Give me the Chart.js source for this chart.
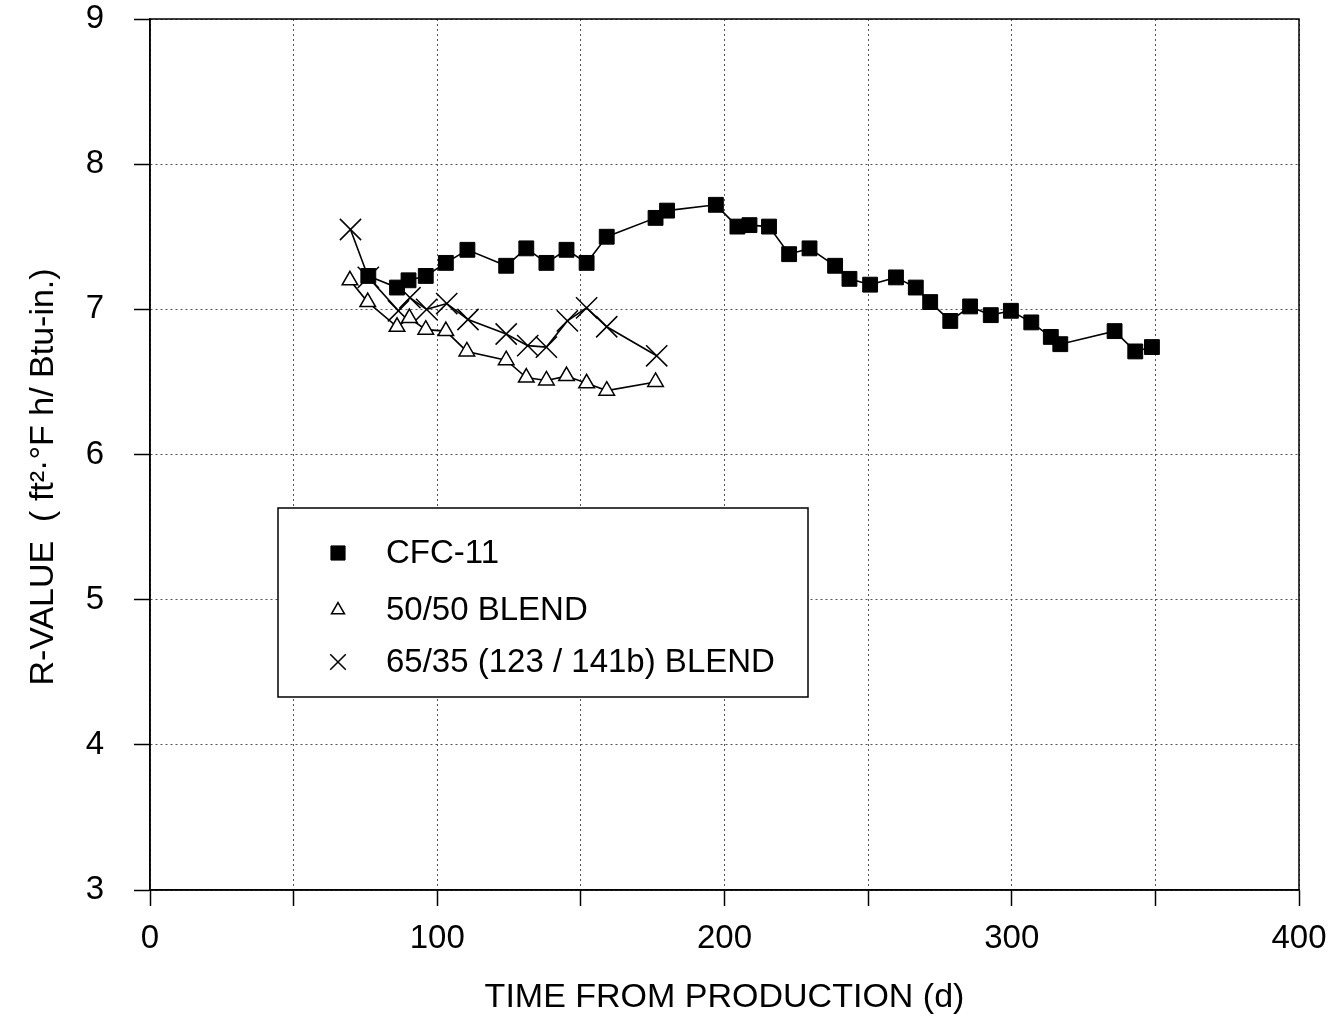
<!DOCTYPE html>
<html lang="en">
<head>
    <meta charset="UTF-8">
    <title>R-Value vs Time</title>
    <script src="https://cdn.jsdelivr.net/npm/chart.js@4/dist/chart.umd.min.js"></script>
    <style>
        html, body { margin: 0; padding: 0; background: #fff; }
        #wrap { width: 1333px; height: 1018px; }
    </style>
</head>
<body>
    <div id="wrap"><canvas id="myChart" width="1333" height="1018"></canvas></div>

    <script>
        // CFC-11 readings (day, R-value)
        const cfcDays = [76, 86, 90, 96, 103, 110.5, 124, 131, 138, 145, 152, 159, 176, 180, 197,
                         204.5, 208.7, 215.5, 222.5, 229.6, 238.5, 243.5, 250.7, 259.7, 266.6, 271.6,
                         278.6, 285.5, 292.7, 299.7, 306.8, 313.6, 316.9, 335.8, 343, 348.8];
        const cfcValues = [7.23, 7.15, 7.2, 7.23, 7.32, 7.41, 7.3, 7.42, 7.32, 7.41, 7.32, 7.5, 7.63, 7.68, 7.72,
                           7.57, 7.58, 7.57, 7.38, 7.42, 7.3, 7.21, 7.17, 7.22, 7.15, 7.05,
                           6.92, 7.02, 6.96, 6.99, 6.91, 6.81, 6.76, 6.85, 6.71, 6.74];

        // 50/50 blend
        const blend50Days = [69.6, 75.8, 86, 90.3, 96, 103, 110.3, 124, 131, 138, 145, 152, 159, 176];
        const blend50Values = [7.2, 7.05, 6.88, 6.94, 6.86, 6.85, 6.71, 6.65, 6.53, 6.51, 6.54, 6.49, 6.44, 6.5];

        // 65/35 (123 / 141b) blend
        const blend65Days = [69.8, 76, 86.5, 90.5, 96.3, 103.3, 110.7, 124, 131.5, 138, 145.3, 152, 159, 176.4];
        const blend65Values = [7.55, 7.22, 6.99, 7.08, 7.0, 7.04, 6.93, 6.83, 6.75, 6.74, 6.92, 7.01, 6.88, 6.68];

        const seriesNames = ['CFC-11', '50/50 BLEND', '65/35 (123 / 141b) BLEND'];
        const xTicks = [0, 100, 200, 300, 400];
        const yTicks = [3, 4, 5, 6, 7, 8, 9];
        const xTitle = 'TIME FROM PRODUCTION (d)';
        const yTitle = 'R-VALUE  ( ft²·°F h/ Btu-in.)';

        const FONT = '"Liberation Sans", Arial, Helvetica, sans-serif';

        function toPoints(xs, ys) {
            return xs.map((x, i) => ({ x: x, y: ys[i] }));
        }

        const styles = [
            { pointStyle: 'rect', radius: 10.5, legendRadius: 10, backgroundColor: '#000', borderColor: '#000', borderWidth: 1 },
            { pointStyle: 'triangle', radius: 9, legendRadius: 7.5, backgroundColor: '#fff', borderColor: '#000', borderWidth: 1.5 },
            { pointStyle: 'crossRot', radius: 15, legendRadius: 11, backgroundColor: '#000', borderColor: '#000', borderWidth: 1.5 }
        ];

        const datasets = [
            toPoints(cfcDays, cfcValues),
            toPoints(blend50Days, blend50Values),
            toPoints(blend65Days, blend65Values)
        ].map((pts, i) => ({
            label: seriesNames[i],
            data: pts,
            showLine: true,
            borderColor: '#000',
            borderWidth: 1.6,
            pointStyle: styles[i].pointStyle,
            pointRadius: styles[i].radius,
            pointBackgroundColor: styles[i].backgroundColor,
            pointBorderColor: styles[i].borderColor,
            pointBorderWidth: styles[i].borderWidth,
            fill: false,
            tension: 0
        }));

        // caixa da area do grafico (topo e direita)
        const framePlugin = {
            id: 'frame',
            afterDatasetsDraw(chart) {
                const { ctx, chartArea: a } = chart;
                ctx.save();
                ctx.strokeStyle = '#000';
                ctx.lineWidth = 1.5;
                ctx.strokeRect(a.left, a.top, a.right - a.left, a.bottom - a.top);
                ctx.restore();
            }
        };

        // titulo do eixo y (um pouco abaixo do centro, como no original)
        const yTitlePlugin = {
            id: 'yTitle',
            afterDraw(chart) {
                const ctx = chart.ctx;
                ctx.save();
                ctx.translate(44, 477);
                ctx.rotate(-Math.PI / 2);
                ctx.fillStyle = '#000';
                ctx.font = '34px ' + FONT;
                ctx.textAlign = 'center';
                ctx.textBaseline = 'middle';
                ctx.fillText(yTitle, 0, 0);
                ctx.restore();
            }
        };

        // legenda com borda dentro da area
        const boxLegend = {
            id: 'boxLegend',
            afterDraw(chart) {
                const ctx = chart.ctx;
                const bx = 278, by = 508, bw = 530, bh = 189;
                const rowsY = [553, 610, 662];
                ctx.save();
                ctx.fillStyle = '#fff';
                ctx.fillRect(bx, by, bw, bh);
                ctx.strokeStyle = '#000';
                ctx.lineWidth = 1.5;
                ctx.strokeRect(bx, by, bw, bh);
                seriesNames.forEach((name, i) => {
                    const s = styles[i];
                    ctx.fillStyle = s.backgroundColor;
                    ctx.strokeStyle = s.borderColor;
                    ctx.lineWidth = s.borderWidth;
                    Chart.helpers.drawPoint(ctx, { pointStyle: s.pointStyle, radius: s.legendRadius, rotation: 0, borderWidth: s.borderWidth }, 338, rowsY[i]);
                    ctx.fillStyle = '#000';
                    ctx.font = '33px ' + FONT;
                    ctx.textBaseline = 'middle';
                    ctx.textAlign = 'left';
                    ctx.fillText(name, 386, rowsY[i] + 1);
                });
                ctx.restore();
            }
        };

        const ctx = document.getElementById('myChart').getContext('2d');
        const myChart = new Chart(ctx, {
            type: 'scatter',
            data: { datasets: datasets },
            plugins: [framePlugin, yTitlePlugin, boxLegend],
            options: {
                responsive: false,
                animation: false,
                layout: { padding: { top: 19, right: 34, left: 0, bottom: 0 } },
                plugins: {
                    legend: { display: false },
                    tooltip: { enabled: false }
                },
                scales: {
                    x: {
                        type: 'linear',
                        min: 0,
                        max: 400,
                        afterFit: (s) => { s.height = 128; s.paddingLeft = 0; s.paddingRight = 0; },
                        ticks: {
                            stepSize: 50,
                            color: '#000',
                            padding: 13,
                            maxRotation: 0,
                            font: { family: FONT, size: 33 },
                            callback: (v) => xTicks.includes(v) ? String(v) : ''
                        },
                        grid: {
                            color: '#555',
                            lineWidth: 1,
                            tickLength: 16,
                            tickColor: '#000',
                            tickWidth: 1.5,
                            tickBorderDash: []
                        },
                        border: { display: true, color: '#000', width: 1.5, dash: [2, 3] },
                        title: {
                            display: true,
                            text: xTitle,
                            color: '#000',
                            font: { family: FONT, size: 34 },
                            padding: { top: 0, bottom: 0 }
                        }
                    },
                    y: {
                        type: 'linear',
                        min: 3,
                        max: 9,
                        afterFit: (s) => { s.width = 150; s.paddingTop = 0; s.paddingBottom = 0; },
                        ticks: {
                            stepSize: 1,
                            color: '#000',
                            padding: 30,
                            font: { family: FONT, size: 33 },
                            callback: (v) => yTicks.includes(v) ? String(v) : ''
                        },
                        grid: {
                            color: '#555',
                            lineWidth: 1,
                            tickLength: 16,
                            tickColor: '#000',
                            tickWidth: 1.5,
                            tickBorderDash: []
                        },
                        border: { display: true, color: '#000', width: 1.5, dash: [2, 3] },
                        title: { display: false }
                    }
                }
            }
        });
    </script>
</body>
</html>
